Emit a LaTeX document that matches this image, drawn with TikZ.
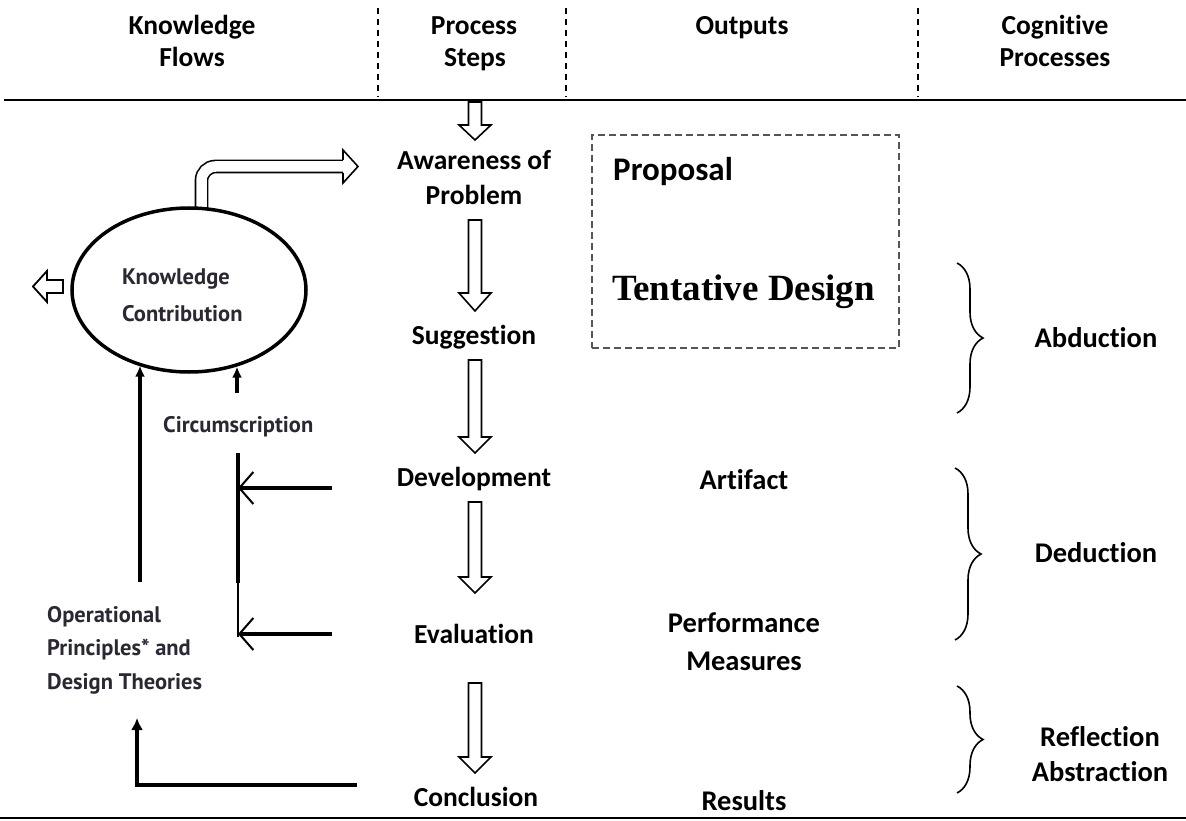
\documentclass[tikz,border=0pt]{standalone}
\usepackage{fontspec}
\setmainfont{Carlito}[Ligatures=NoCommon]
\newfontfamily\flowfont{PT Sans}
\newfontfamily\designfont{Liberation Serif}
\usetikzlibrary{shapes.geometric, arrows.meta, decorations.pathreplacing, calc, backgrounds}
\definecolor{flowink}{HTML}{2B2733}
\definecolor{boxgray}{HTML}{555555}

\begin{document}
\begin{tikzpicture}[x=1pt, y=-1pt,
  hd/.style={font=\fontsize{27.5}{33}\selectfont\bfseries, anchor=base, inner sep=0},
  stepname/.style={font=\fontsize{27.5}{33}\selectfont\bfseries, anchor=base, inner sep=0},
  outname/.style={font=\fontsize{28.5}{33}\selectfont\bfseries, anchor=base, inner sep=0},
  flowtext/.style={font=\flowfont\fontsize{22.5}{30}\selectfont\bfseries, text=flowink, anchor=base west, inner sep=0},
  hollow/.style={draw=black, line width=1.6, fill=white, line join=miter},
  feed/.style={line width=4},
  divider/.style={line width=1.4, dash pattern=on 6 off 5},
  curly/.style={line width=1.6, decorate, decoration={brace, amplitude=26}},
  pics/downarrow/.style 2 args={code={
    \draw[hollow] (-6.5,0) -- (6.5,0) -- (6.5,#1) -- (16,#1) -- (0,#2)
      -- (-16,#1) -- (-6.5,#1) -- cycle;
  }}
]
\path[use as bounding box] (0,0) rectangle (1186,821);
\begin{scope}[on background layer]
  \fill[white] (0,0) rectangle (1186,821);
\end{scope}

% column rules
\draw[line width=2.2] (4,100) -- (1186,100);
\draw[line width=2.2] (0,818) -- (1186,818);
\draw[divider] (378,8) -- (378,97);
\draw[divider] (566,8) -- (566,97);
\draw[divider] (918,8) -- (918,97);

% column headings
\node[hd] (kf1) at (192,35) {Knowledge};
\node[hd] (kf2) at (192,67) {Flows};
\node[hd] (ps1) at (474,35) {Process};
\node[hd] (ps2) at (475,67) {Steps};
\node[hd] (out) at (742,35) {Outputs};
\node[hd] (cp1) at (1055,35) {Cognitive};
\node[hd] (cp2) at (1055,67) {Processes};

% process steps
\node[stepname] (aw1) at (474,170) {Awareness of};
\node[stepname] (aw2) at (474,205) {Problem};
\node[stepname] (sug) at (474,344) {Suggestion};
\node[stepname] (dev) at (474,486) {Development};
\node[stepname] (eva) at (474,643) {Evaluation};
\node[stepname] (con) at (476,806) {Conclusion};

\pic at (475,102) {downarrow={23}{38}};
\pic at (475,220) {downarrow={73}{91}};
\pic at (475,360) {downarrow={77}{93}};
\pic at (475,502) {downarrow={75}{91}};
\pic at (475,683) {downarrow={74}{90}};

% outputs
\node[draw=boxgray, line width=1.3, dash pattern=on 7 off 4, minimum width=307,
      minimum height=213, inner sep=0] (prop) at (745.5,241.5) {};
\node[font=\fontsize{33}{40}\selectfont\bfseries, anchor=base west, inner sep=0] (pro) at (613,181) {Proposal};
\node[font=\designfont\fontsize{37}{40}\selectfont\bfseries, anchor=base west, inner sep=0] (tent) at (612,300) {Tentative Design};
\node[outname] (art) at (744,489) {Artifact};
\node[outname] (pm1) at (744,632) {Performance};
\node[outname] (pm2) at (744,670) {Measures};
\node[outname] (res) at (744,810) {Results};

% cognitive processes
\draw[curly] (957,263) -- (957,413);
\draw[curly] (955,468) -- (955,640);
\draw[curly] (957,686) -- (957,793);
\node[outname] (abd) at (1096,347) {Abduction};
\node[outname] (ded) at (1096,562) {Deduction};
\node[outname] (ref) at (1100,746) {Reflection};
\node[outname] (abs) at (1100,781) {Abstraction};

% knowledge contribution
\begin{scope}[on background layer]
  \draw[line width=1.6, double=white, double distance=10.5, rounded corners=14]
    (189,250) ++(12.5,0) |- (343,166.5);
\end{scope}
\node[draw, ellipse, line width=3.5, fill=white, minimum width=234, minimum height=164,
      inner sep=0] (kc) at (189,290) {};
\node[flowtext] (kn1) at (122,284) {Knowledge};
\node[flowtext] (kn2) at (122,321) {Contribution};

\draw[hollow] (343,160) -- (343,150) -- (358,166.5) -- (343,183) -- (343,173);
\draw[hollow, line width=1.8] (63,280) -- (47,280) -- (47,271) -- (33,286.5) -- (47,302)
  -- (47,293) -- (63,293) -- cycle;

\node[flowtext] (circ) at (163,432) {Circumscription};
\node[flowtext] (op1) at (47,622) {Operational};
\node[flowtext] (op2) at (47,655) {Principles* and};
\node[flowtext] (op3) at (47,689) {Design Theories};

% knowledge flows
\coordinate (opTop) at (140,582);
\coordinate (ciTop) at (237,393);
\draw[feed, -{Latex[length=11, width=10]}] (opTop) -- (opTop |- kc.236.7);
\draw[feed, -{Latex[length=11, width=10]}] (ciTop) -- (ciTop |- kc.302.6);

\coordinate (cvTop) at (238,453);
\coordinate (cvMid) at (238,583);
\coordinate (cvBot) at (238,637);
\draw[line width=4] (cvTop) -- (cvMid);
\draw[line width=2] (cvMid) -- (cvBot);
\coordinate (devIn) at (332,488);
\coordinate (evaIn) at (332,634);
\draw[feed, -{Straight Barb[length=14, width=32, line width=2]}] (devIn) -- (devIn -| cvTop);
\draw[feed, -{Straight Barb[length=14, width=32, line width=2]}] (evaIn) -- (evaIn -| cvTop);

\coordinate (conOut) at (357,785);
\coordinate (conTurn) at (137,785);
\coordinate (opBot) at (137,718);
\draw[feed, -{Latex[length=12, width=12]}] (conOut) -- (conTurn) -- (opBot);
\end{tikzpicture}
\end{document}
